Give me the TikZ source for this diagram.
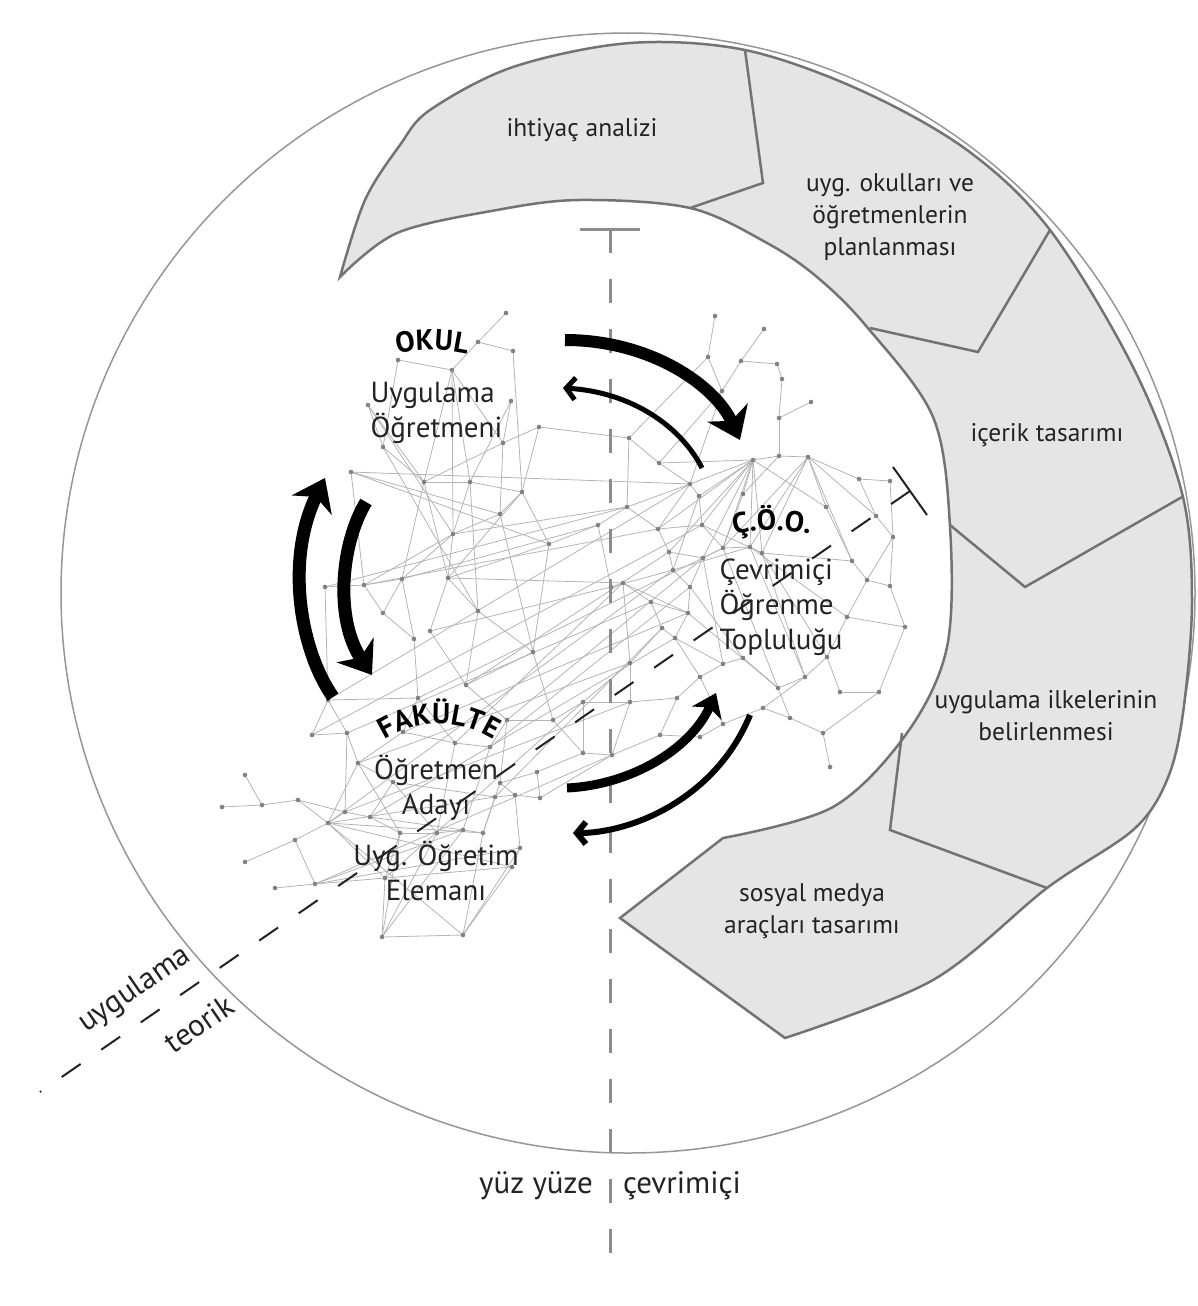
\documentclass[tikz,border=0pt]{standalone}
\usepackage{fontspec}
\setmainfont{PT Sans}
\usepackage{xcolor}
\usepackage{tikz}
\usetikzlibrary{arrows.meta, decorations.text}
\definecolor{bandfill}{RGB}{229,229,229}
\definecolor{bandline}{RGB}{115,115,115}
\definecolor{rimgray}{RGB}{150,150,150}
\definecolor{webgray}{RGB}{180,180,180}
\definecolor{dotgray}{RGB}{130,130,130}
\definecolor{axisgray}{RGB}{140,140,140}
\definecolor{inkgray}{RGB}{35,35,35}
\newcommand{\boldlab}{\fontsize{29}{32}\selectfont\bfseries}

\begin{document}
\begin{tikzpicture}[x=1pt, y=1pt,
      rim/.style={draw=rimgray, line width=1.5pt},
      band/.style={draw=bandline, fill=bandfill, line width=2.5pt, line join=miter},
      divider/.style={draw=bandline, line width=2.5pt},
      bandtext/.style={font=\fontsize{25.5}{32}\selectfont, align=center, text=inkgray},
      roletext/.style={font=\fontsize{29}{35}\selectfont, text=inkgray},
      axistext/.style={font=\fontsize{31}{35}\selectfont, text=inkgray, inner sep=0pt},
      axis/.style={draw=axisgray, line width=3pt, dash pattern=on 24pt off 26pt},
      split/.style={draw=inkgray, line width=2pt, dash pattern=on 23pt off 25pt},
      web/.style={draw=webgray, line width=0.8pt},
      dot/.style={fill=dotgray},
      heavyarr/.style={draw=black, line width=12pt, -{Stealth[length=30pt, width=44pt, inset=9pt]}},
      midarr/.style={draw=black, line width=9pt, -{Stealth[length=22pt, width=32pt, inset=6pt]}},
      lightarr/.style={draw=black, line width=5pt, -{Straight Barb[length=9pt, width=22pt]}}
    ]
    \useasboundingbox (0,0) rectangle (1197,-1306);

    % outer ring
    \draw[rim] (628,-593) ellipse [x radius=567, y radius=560];

    % process band
    \draw[band] plot[smooth, tension=0.55] coordinates {(340,-277) (365,-200) (400,-145) (430,-110)
        (513,-67) (630,-43) (745,-50) (860,-90) (967,-150) (1050,-230) (1133,-367) (1182,-493)
        (1192,-600) (1183,-713) (1167,-780) (1133,-830) (1047,-888) (933,-980) (785,-1038)}
      -- (620,-918) -- plot[smooth, tension=0.55] coordinates {(723,-838) (833,-807) (907,-733)
        (947,-647) (950,-527) (933,-417) (867,-327) (817,-277) (767,-243) (690,-208) (580,-200)
        (497,-210) (397,-233) (340,-277)} -- cycle;
    \draw[divider] (745,-50) -- (763,-183) -- (690,-208);
    \draw[divider] (1050,-230) -- (978,-352) -- (870,-328);
    \draw[divider] (1182,-497) -- (1025,-587) -- (950,-525);
    \draw[divider] (1047,-888) -- (890,-830) -- (902,-733);

    \node[bandtext] (need) at (582,-130) {ihtiyaç analizi};
    \node[bandtext] (plan) at (890,-217) {uyg. okulları ve\\öğretmenlerin\\planlanması};
    \node[bandtext] (content) at (1047,-435) {içerik tasarımı};
    \node[bandtext] (rules) at (1046,-716) {uygulama ilkelerinin\\belirlenmesi};
    \node[bandtext] (media) at (812,-911) {sosyal medya\\araçları tasarımı};

    % network
    \foreach \n/\x/\y in {o1/506/313, o2/478/342, o3/513/351, o4/452/370, o5/398/360, o6/511/401,
        o7/368/405, o8/539/427, o9/503/443, o10/383/447, o11/351/472, o12/424/482, o13/470/482,
        o14/522/492, o15/500/514, o16/453/534, o17/549/544, o18/402/579, o19/448/578, o20/364/585,
        o21/325/587, o22/478/611, o23/383/613, o24/430/631, o25/414/639, o26/533/652, o27/466/685,
        m1/598/525, m2/627/507, m3/629/438, m4/659/463, m5/611/587, m6/623/583, m7/553/720,
        m8/583/702, m9/630/702, m10/630/663, m11/583/753, m12/612/755, m13/537/772, m14/540/798,
        m15/660/735, m16/677/698,
        c1/715/316, c2/764/329, c3/708/357, c4/741/361, c5/777/364, c6/782/379, c7/811/402,
        c8/722/391, c9/779/418, c10/753/460, c11/779/456, c12/808/457, c13/690/484, c14/699/496,
        c15/743/494, c16/859/479, c17/890/481, c18/826/507, c19/876/516, c20/893/537, c21/658/529,
        c22/702/525, c23/669/552, c24/723/548, c25/703/558, c26/750/547, c27/762/553, c28/852/561,
        c29/867/580, c30/890/586, c31/673/570, c32/690/587, c33/688/613, c34/651/602, c35/662/628,
        c36/675/638, c37/847/617, c38/905/627, c39/827/657, c40/805/677, c41/778/688, c42/840/692,
        c43/879/692, c44/790/718, c45/823/733, c46/830/767, c47/763/708, c48/723/664, c49/743/658,
        c50/700/677, c51/723/724, c52/700/737,
        f1/328/700, f2/347/733, f3/312/735, f4/418/698, f5/507/720, f6/403/732, f7/455/743,
        f8/490/747, f9/358/763, f10/393/782, f11/245/775, f12/262/805, f13/298/800, f14/222/807,
        f15/345/812, f16/328/823, f17/370/817, f18/295/840, f19/245/862, f20/275/888, f21/315/884,
        f22/385/878, f23/400/833, f24/437/833, f25/463/830, f26/483/833, f27/500/783, f28/515/795,
        f29/495/797, f30/520/848, f31/512/867, f32/382/937, f33/463/935}
      \coordinate (\n) at (\x,-\y);

    \foreach \a/\b in {o1/o2, o2/o3, o2/o4, o4/o5, o5/o10, o4/o12, o4/o13, o4/o9, o4/o16, o7/o10,
        o7/o12, o7/o16, o6/o9, o8/o9, o8/o14, o9/o12, o9/o15, o10/o12, o10/o22, o11/o17, o11/o15,
        o12/o13, o12/o19, o12/o18, o13/o14, o13/o16, o13/o22, o14/o15, o14/o17, o14/o19, o15/o16,
        o15/o26, o16/o18, o16/o19, o16/o20, o17/o19, o18/o20, o18/o23, o18/o25, o19/o22, o19/o24,
        o20/o21, o20/o23, o21/f1, o22/o26, o22/o27, o23/o25, o24/o27, o25/f4, o26/o27, o27/f5,
        o17/o26, o6/o13, o3/o14, o11/o20,
        o17/m1, o8/m3, m1/m2, m1/m5, m2/m3, m2/c21, m2/c13, m3/m4, m4/c13, m4/c8, m3/c3, m4/c10,
        m5/m6, m6/c34, m5/c31, m6/m10, m10/m9, m9/m8, m8/m7, m7/m11, m8/m11, m11/m12, m12/m9,
        m13/m11, m13/m14, m14/m12, m9/m16, m10/c35, m15/m16, m15/c52, m16/c50, m12/m15, m7/o26,
        m13/f27, m14/f28, m8/m10, m6/c33, m7/f5, o21/m2, o11/c13, o18/m1, o20/c21, f1/c13, f3/c22,
        f4/c24, f6/c33, f2/c34, f9/m10, f16/c31, f15/m9, f17/c36, f21/m12, f22/m8, o16/m2, o19/m6,
        o24/m5, o27/c23, f5/c25, f8/c32, f29/c35, f7/m6,
        c1/c3, c2/c4, c4/c5, c3/c8, c4/c8, c6/c9, c5/c6, c7/c9, c9/c11, c11/c12, c10/c11, c8/c13,
        c10/c13, c10/c14, c10/c15, c10/c21, c10/c22, c10/c24, c10/c26, c10/c18, c10/c25, c10/c27,
        c10/c23, c12/c18, c12/c19, c12/c24, c12/c26, c12/c27, c12/c28, c12/c16, c16/c17, c16/c19,
        c17/c20, c19/c20, c18/c28, c20/c29, c20/c30, c21/c22, c21/c23, c22/c24, c23/c25, c24/c25,
        c24/c26, c26/c27, c27/c28, c28/c29, c29/c30, c29/c37, c30/c38, c37/c38, c37/c39, c38/c43,
        c39/c40, c40/c41, c39/c42, c42/c43, c41/c44, c44/c45, c45/c46, c43/c45, c40/c47, c47/c51,
        c41/c49, c48/c49, c48/c50, c50/c51, c51/c52, c31/c32, c32/c33, c33/c34, c34/c35, c35/c36,
        c36/c33, c36/c48, c32/c25, c31/c23, c33/c41, c36/c50, c49/c41, c47/c44, c26/c37, c27/c39,
        c24/c41, c14/c22, c13/c14, c15/c24, c15/c11, c13/c21, c25/c48, c26/c40, c32/c49, c31/c26,
        c22/c27, c14/c31, c27/c40,
        f14/f12, f11/f12, f12/f13, f13/f15, f19/f18, f18/f16, f16/f15, f20/f21, f21/f18, f1/f2,
        f1/f4, f3/f2, f2/f9, f4/f6, f4/f7, f6/f7, f7/f8, f8/f5, f9/f10, f9/f16, f10/f17, f15/f17,
        f17/f23, f10/f24, f23/f24, f24/f25, f25/f26, f26/f27, f27/f28, f28/f29, f29/f26, f28/f30,
        f30/f31, f31/f33, f33/f32, f32/f22, f22/f21, f22/f23, f16/f22, f16/f33, f16/f26, f16/f31,
        f16/f29, f21/f30, f21/f25, f32/f24, f33/f26, f32/f25, f33/f30, f22/f31, f24/f7, f25/f8,
        f27/f5, f3/f1, f6/f9, f2/f15, f10/f29, f23/f32, f13/f16, f17/f25, f9/f23}
      \draw[web] (\a) -- (\b);

    \foreach \n in {o1,o2,o3,o4,o5,o6,o7,o8,o9,o10,o11,o12,o13,o14,o15,o16,o17,o18,o19,o20,o21,
        o22,o23,o24,o25,o26,o27,m1,m2,m3,m4,m5,m6,m7,m8,m9,m10,m11,m12,m13,m14,m15,m16,
        c1,c2,c3,c4,c5,c6,c7,c8,c9,c10,c11,c12,c13,c14,c15,c16,c17,c18,c19,c20,c21,c22,c23,c24,
        c25,c26,c27,c28,c29,c30,c31,c32,c33,c34,c35,c36,c37,c38,c39,c40,c41,c42,c43,c44,c45,c46,
        c47,c48,c49,c50,c51,c52,f1,f2,f3,f4,f5,f6,f7,f8,f9,f10,f11,f12,f13,f14,f15,f16,f17,f18,
        f19,f20,f21,f22,f23,f24,f25,f26,f27,f28,f29,f30,f31,f32,f33}
      \fill[dot] (\n) circle (2.3pt);

    % face to face / online axis
    \coordinate (vtop) at (610,-229);
    \coordinate (vbot) at (610,-1275);
    \draw[axisgray, line width=3pt] (580,-229) -- (640,-229);
    \draw[axis] (vtop) -- (vbot);
    \node[axistext, anchor=base] (face) at (536,-1193) {yüz yüze};
    \node[axistext, anchor=base] (online) at (682,-1193) {çevrimiçi};

    % practice / theory axis
    \coordinate (dtop) at (910,-491);
    \coordinate (dbot) at (40,-1092);
    \draw[inkgray, line width=2pt] (893,-467) -- (927,-515);
    \draw[split] (dtop) -- (dbot);
    \node[axistext, rotate=34.6] (practice) at (135,-990) {uygulama};
    \node[axistext, rotate=34.6] (theory) at (199,-1024) {teorik};

    % actors
    \path[decorate, decoration={text along path, text align=center, text={|\boldlab|OKUL}}]
      ([shift={(110:155)}]432,-505) arc[start angle=110, end angle=70, radius=155];
    \path[decorate, decoration={text along path, text align=center, text={|\boldlab|FAKÜLTE}}]
      ([shift={(130:102)}]439,-826) arc[start angle=130, end angle=50, radius=102];
    \path[decorate, decoration={text along path, text align=center, text={|\boldlab|Ç.Ö.O.}}]
      ([shift={(105:160)}]772,-690) arc[start angle=105, end angle=75, radius=160];

    \node[roletext, align=left, anchor=west] (teacher) at (367,-413) {Uygulama\\Öğretmeni};
    \node[roletext, align=center] (candidate) at (436,-788) {Öğretmen\\Adayı};
    \node[roletext, align=center] (staff) at (436,-871) {Uyg. Öğretim\\Elemanı};
    \node[roletext, align=left, anchor=west] (community) at (716,-607) {Çevrimiçi\\Öğrenme\\Topluluğu};

    % flows
    \coordinate (s1) at (565,-340);  \coordinate (e1) at (740,-440);
    \coordinate (s2) at (702,-468);  \coordinate (e2) at (563,-388);
    \coordinate (s3) at (333,-697);  \coordinate (e3) at (325,-478);
    \coordinate (s4) at (366,-502);  \coordinate (e4) at (372,-675);
    \coordinate (s5) at (567,-788);  \coordinate (e5) at (716,-693);
    \coordinate (s6) at (750,-715);  \coordinate (e6) at (573,-833);
    \draw[heavyarr] (s1) .. controls (650,-340) and (715,-385) .. (e1);
    \draw[lightarr] (s2) .. controls (680,-425) and (630,-392) .. (e2);
    \draw[heavyarr, line width=13pt] (s3) .. controls (300,-650) and (285,-560) .. (e3);
    \draw[heavyarr, line width=13pt] (s4) .. controls (340,-545) and (335,-620) .. (e4);
    \draw[midarr] (s5) .. controls (630,-785) and (690,-750) .. (e5);
    \draw[lightarr, line width=6pt] (s6) .. controls (715,-800) and (630,-833) .. (e6);
  \end{tikzpicture}
\end{document}
